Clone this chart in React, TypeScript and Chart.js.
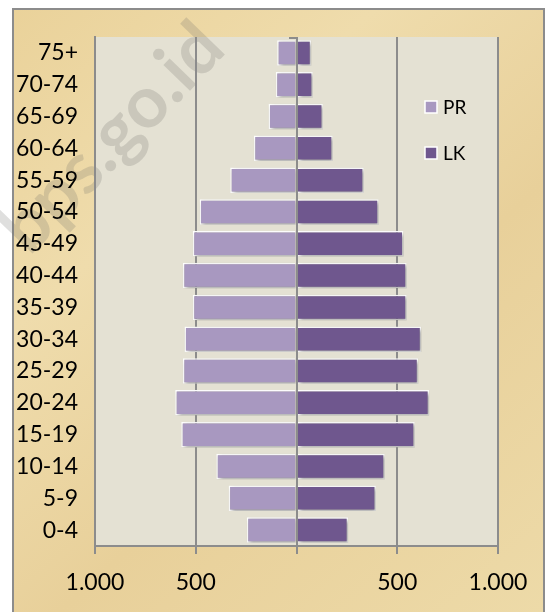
import React, { useEffect, useRef } from 'react';
import { Chart, registerables } from 'chart.js';

Chart.register(...registerables);

// Age groups, bottom to top
const ageGroups = ['0-4', '5-9', '10-14', '15-19', '20-24', '25-29', '30-34', '35-39', '40-44', '45-49', '50-54', '55-59', '60-64', '65-69', '70-74', '75+'];
// PR (left side, shown as negative)
const prValues = [247, 337, 398, 572, 602, 564, 556, 515, 564, 515, 481, 329, 212, 139, 103, 96];
// LK (right side)
const lkValues = [256, 394, 438, 587, 658, 604, 619, 547, 547, 531, 408, 334, 180, 131, 81, 73];
const seriesNames = ['PR', 'LK'];
const seriesColors = ['#A898C0', '#6F578E'];
const xMin = -1000;
const xMax = 1000;
const xStep = 500;

const FONT = 'Lato, "Open Sans", sans-serif';

function fmt(v: number): string {
  if (v === 0) return '';
  const a = Math.abs(v);
  return a >= 1000 ? Math.floor(a / 1000) + '.' + String(a % 1000).padStart(3, '0') : String(a);
}

export default function App() {
  const ref = useRef<HTMLCanvasElement>(null);

  useEffect(() => {
    const canvas = ref.current;
    if (!canvas) return;

    const bgPlugin = {
      id: 'bgPlugin',
      beforeDraw(chart: any) {
        const { ctx, chartArea: ca } = chart;
        ctx.save();
        ctx.fillStyle = '#ffffff';
        ctx.fillRect(0, 0, 551, 612);
        const g = ctx.createLinearGradient(12, 8, 545, 612);
        g.addColorStop(0, '#EAD29A');
        g.addColorStop(0.3, '#EFDCAC');
        g.addColorStop(0.6, '#E8D09A');
        g.addColorStop(1, '#EDDAA8');
        ctx.fillStyle = g;
        ctx.fillRect(12, 8, 533, 610);
        ctx.strokeStyle = '#8C8C8C';
        ctx.lineWidth = 2;
        ctx.strokeRect(13, 9, 531, 620);
        ctx.fillStyle = '#E4E1D3';
        ctx.fillRect(ca.left, ca.top, ca.right - ca.left, ca.bottom - ca.top);
        // watermark
        ctx.translate(112, 138);
        ctx.rotate(-46 * Math.PI / 180);
        ctx.font = 'bold 72px ' + FONT;
        ctx.textAlign = 'center';
        ctx.textBaseline = 'middle';
        ctx.fillStyle = 'rgba(110,110,105,0.22)';
        ctx.fillText('bps.go.id', 0, 0);
        ctx.restore();
      },
    };

    const shadowPlugin = {
      id: 'shadowPlugin',
      beforeDatasetsDraw(chart: any) {
        const ctx = chart.ctx;
        ctx.save();
        ctx.shadowColor = 'rgba(0,0,0,0.35)';
        ctx.shadowBlur = 4;
        ctx.shadowOffsetX = 2;
        ctx.shadowOffsetY = 2;
      },
      afterDatasetsDraw(chart: any) {
        chart.ctx.restore();
      },
    };

    const zeroLinePlugin = {
      id: 'zeroLinePlugin',
      afterDatasetsDraw(chart: any) {
        const { ctx, chartArea: ca, scales } = chart;
        const x = Math.round(scales.x.getPixelForValue(0));
        ctx.save();
        ctx.strokeStyle = '#8C8C8C';
        ctx.lineWidth = 2;
        ctx.beginPath();
        ctx.moveTo(x, ca.top);
        ctx.lineTo(x, ca.bottom);
        ctx.moveTo(x - 8, ca.top + 1);
        ctx.lineTo(x, ca.top + 1);
        ctx.stroke();
        ctx.restore();
      },
    };

    const legendPlugin = {
      id: 'customLegend',
      afterDraw(chart: any) {
        const { ctx, chartArea: ca } = chart;
        ctx.save();
        chart.data.datasets.forEach((ds: any, i: number) => {
          const cy = ca.top + 70 + i * 46;
          const sx = ca.right - 73;
          ctx.fillStyle = ds.backgroundColor;
          ctx.fillRect(sx, cy - 6, 12, 12);
          ctx.strokeStyle = '#ffffff';
          ctx.lineWidth = 1.5;
          ctx.strokeRect(sx, cy - 6, 12, 12);
          ctx.fillStyle = '#000000';
          ctx.font = '19px ' + FONT;
          ctx.textAlign = 'left';
          ctx.textBaseline = 'middle';
          ctx.fillText(ds.label, sx + 18, cy + 1);
        });
        ctx.restore();
      },
    };

    const chart = new Chart(canvas, {
      type: 'bar',
      data: {
        labels: ageGroups,
        datasets: [
          {
            label: seriesNames[0],
            data: prValues.map((v) => -v),
            backgroundColor: seriesColors[0],
            borderColor: '#ffffff',
            borderWidth: 1.5,
            categoryPercentage: 1,
            barPercentage: 0.8,
          },
          {
            label: seriesNames[1],
            data: lkValues,
            backgroundColor: seriesColors[1],
            borderColor: '#ffffff',
            borderWidth: 1.5,
            categoryPercentage: 1,
            barPercentage: 0.8,
          },
        ],
      },
      options: {
        indexAxis: 'y',
        responsive: false,
        animation: false,
        maintainAspectRatio: false,
        layout: { padding: { left: 0, top: 37, right: 53, bottom: 0 } },
        plugins: {
          legend: { display: false },
          tooltip: { enabled: false },
          title: { display: false },
        },
        scales: {
          x: {
            type: 'linear',
            stacked: true,
            min: xMin,
            max: xMax,
            grid: { color: '#8C8C8C', lineWidth: 2, drawTicks: true, tickLength: 8 },
            border: { display: true, color: '#8C8C8C', width: 2 },
            ticks: {
              stepSize: xStep,
              color: '#000000',
              font: { family: FONT, size: 23 },
              padding: 15,
              maxRotation: 0,
              callback: (v: any) => fmt(Number(v)),
            },
            afterFit: (s: any) => {
              s.height = 66;
            },
          },
          y: {
            type: 'category',
            stacked: true,
            reverse: true,
            grid: { display: false, drawTicks: false },
            border: { display: true, color: '#8C8C8C', width: 2 },
            ticks: {
              color: '#000000',
              font: { family: FONT, size: 23 },
              padding: 17,
              autoSkip: false,
            },
            afterFit: (s: any) => {
              s.width = 95;
            },
          },
        },
      },
      plugins: [bgPlugin, shadowPlugin, zeroLinePlugin, legendPlugin],
    } as any);

    return () => chart.destroy();
  }, []);

  return (
    <div style={{ position: 'absolute', left: 0, top: 0, width: 551, height: 612 }}>
      <canvas ref={ref} width={551} height={612} style={{ display: 'block' }} />
    </div>
  );
}
